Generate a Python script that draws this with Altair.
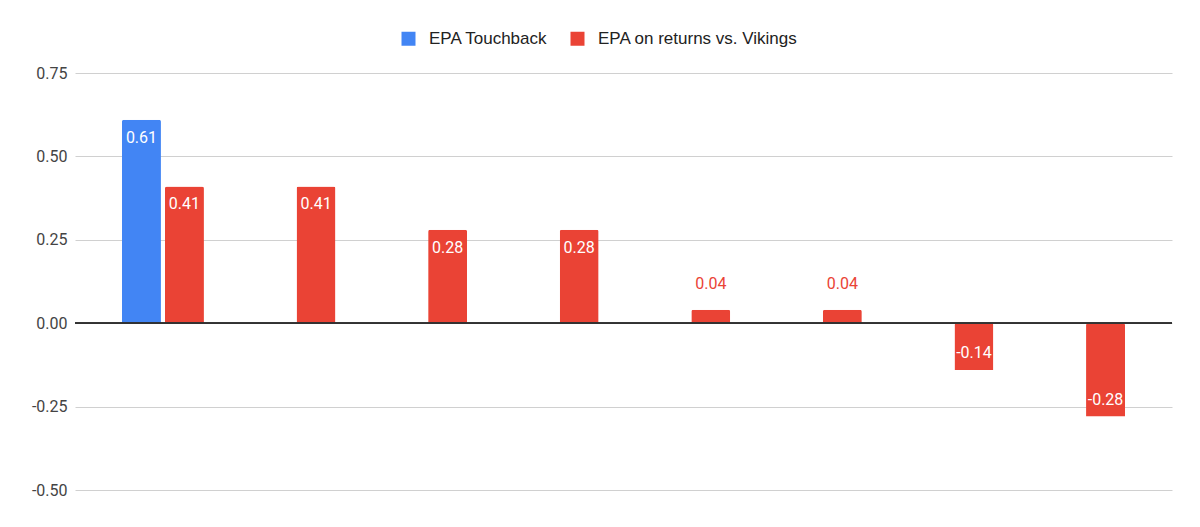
import altair as alt
import pandas as pd

categories = ["C1", "C2", "C3", "C4", "C5", "C6", "C7", "C8"]
series_names = ["EPA Touchback", "EPA on returns vs. Vikings"]
touchback = [0.61, None, None, None, None, None, None, None]
returns = [0.41, 0.41, 0.28, 0.28, 0.04, 0.04, -0.14, -0.28]
y_ticks = [-0.5, -0.25, 0.0, 0.25, 0.5, 0.75]
colors = ["#4285F4", "#EA4335"]

rows = []
for c, t, r in zip(categories, touchback, returns):
    if t is not None:
        rows.append({"cat": c, "series": series_names[0], "value": t})
    if r is not None:
        rows.append({"cat": c, "series": series_names[1], "value": r})
df = pd.DataFrame(rows)
df["label"] = df["value"].map(lambda v: f"{v:.2f}")

FONT = "Roboto"
LEGEND_FONT = "Liberation Sans, Arial"

x = alt.X("cat:N", sort=categories, axis=None,
          scale=alt.Scale(paddingInner=0.377, paddingOuter=0.357))
xo = alt.XOffset("series:N", sort=series_names,
                 scale=alt.Scale(paddingInner=0.093, paddingOuter=0))
y = alt.Y("value:Q",
          scale=alt.Scale(domain=[-0.5, 0.75], nice=False, zero=False),
          axis=alt.Axis(values=y_ticks, title=None, grid=True, gridColor="#d0d0d0",
                        domain=False, ticks=False, labelPadding=8, labelFontSize=16,
                        labelColor="#444444", labelFont=FONT,
                        labelExpr="(datum.value < 0 ? '-' : '') + format(abs(datum.value), '.2f')"))
color = alt.Color("series:N",
                  scale=alt.Scale(domain=series_names, range=colors),
                  legend=alt.Legend(title=None, orient="none", direction="horizontal",
                                    legendX=325, legendY=-43, padding=0,
                                    symbolType="square", symbolSize=196,
                                    symbolStrokeWidth=0, symbolOpacity=1,
                                    labelFont=LEGEND_FONT, labelFontSize=17, labelColor="#222222",
                                    labelOffset=12, columnPadding=21, labelLimit=400))

base = alt.Chart(df)

bars = base.mark_bar(cornerRadiusEnd=2).encode(x=x, xOffset=xo, y=y, color=color)

lab_pos = base.transform_filter("datum.value >= 0.1").mark_text(
    baseline="middle", dy=18, color="white", font=FONT, fontSize=16
).encode(x=x, xOffset=xo, y=y, text="label:N")

lab_neg = base.transform_filter("datum.value <= -0.1").mark_text(
    baseline="middle", dy=-17, color="white", font=FONT, fontSize=16
).encode(x=x, xOffset=xo, y=y, text="label:N")

lab_small = base.transform_filter("abs(datum.value) < 0.1").mark_text(
    baseline="middle", dy=-26, color="#EA4335", font=FONT, fontSize=16
).encode(x=x, xOffset=xo, y=y, text="label:N")

zero = base.mark_rule(color="#333333", strokeWidth=1).encode(y=alt.datum(0))

chart = alt.layer(bars, zero, lab_pos, lab_neg, lab_small).properties(
    width=1097, height=417,
    autosize=alt.AutoSizeParams(type="none"),
    padding={"left": 67, "top": 65, "right": 20, "bottom": 20},
).configure_view(stroke=None)

chart.save("out.html", embed_options={"renderer": "svg", "actions": False})
